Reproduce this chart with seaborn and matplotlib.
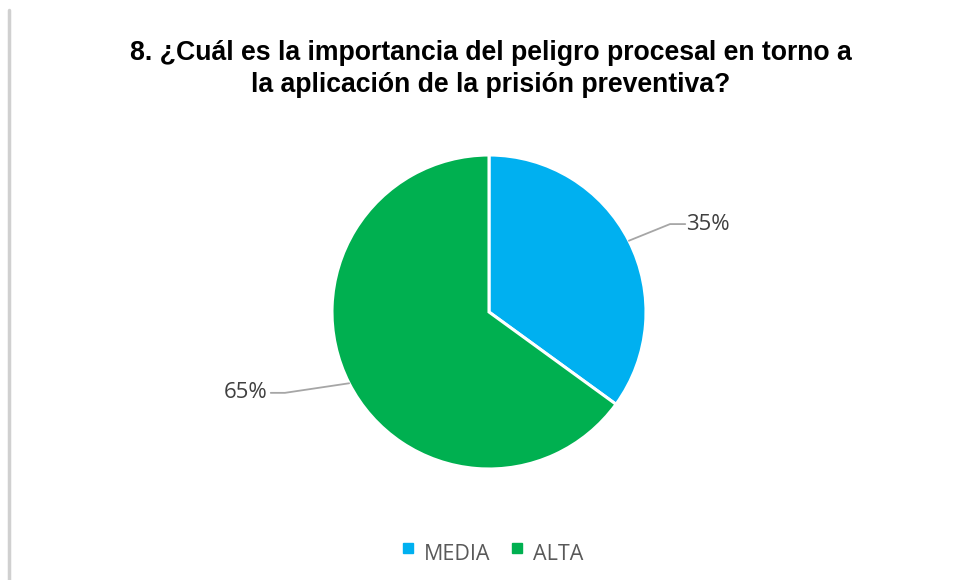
import numpy as np
import matplotlib as mpl
mpl.use("Agg")
import matplotlib.pyplot as plt
import seaborn as sns
from matplotlib.lines import Line2D

sns.set_style("white")

categories = ["MEDIA", "ALTA"]
values = [35, 65]
pct_labels = ["35%", "65%"]
colors = ["#00B0F0", "#00B050"]
title = "8. ¿Cuál es la importancia del peligro procesal en torno a\nla aplicación de la prisión preventiva?"

W, H = 956, 580
fig = plt.figure(figsize=(W / 100, H / 100), dpi=100)
fig.patch.set_facecolor("white")

# thin grey border on the left side of the chart area
fig.add_artist(Line2D([9 / W, 9 / W], [0, 1 - 10 / H], color="#D0D0D0", lw=2.5))

# pie axes: centre (489, 312) px, radius 157 px
cx, cy, r = 489, 312, 157
ax = fig.add_axes([(cx - r) / W, 1 - (cy + r) / H, 2 * r / W, 2 * r / H])
wedges, _ = ax.pie(values, colors=colors, startangle=90, counterclock=False,
                   radius=1, wedgeprops=dict(edgecolor="white", linewidth=2.2))
ax.set_xlim(-1, 1)
ax.set_ylim(-1, 1)
ax.set_aspect("equal")
ax.axis("off")

# leader lines + percentage labels
elbows = [(1.153, 0.56), (-1.30, -0.515)]
ends = [1.25, -1.39]
for w, lab, (ex, ey), xe in zip(wedges, pct_labels, elbows, ends):
    ang = np.deg2rad((w.theta1 + w.theta2) / 2)
    sx, sy = np.cos(ang), np.sin(ang)
    ax.plot([sx, ex, xe], [sy, ey, ey], color="#A6A6A6", lw=1.3, clip_on=False)
    ha = "left" if xe > 0 else "right"
    off = 0.005 if xe > 0 else -0.02
    ax.text(xe + off, ey, lab, ha=ha, va="center", fontsize=16,
            family="Open Sans", color="#404040", clip_on=False)

fig.text(491 / W, 1 - 69 / H, title, ha="center", va="center", fontsize=19.2,
         fontweight="bold", family="Liberation Sans", color="#000000",
         linespacing=1.32)

handles = [Line2D([], [], marker="s", linestyle="", markersize=7,
                  markerfacecolor=c, markeredgecolor=c) for c in colors]
leg = fig.legend(handles, categories, loc="center", bbox_to_anchor=(492 / W, 1 - 554 / H),
                 ncol=2, frameon=False, handlelength=0.7, handletextpad=0.4,
                 columnspacing=0.9, prop={"family": "Open Sans", "size": 15.5})
for t in leg.get_texts():
    t.set_color("#595959")
for h in leg.legend_handles:
    h.set_transform(h.get_transform() + mpl.transforms.Affine2D().translate(0, 4))

fig.savefig("out.png", dpi=100)
